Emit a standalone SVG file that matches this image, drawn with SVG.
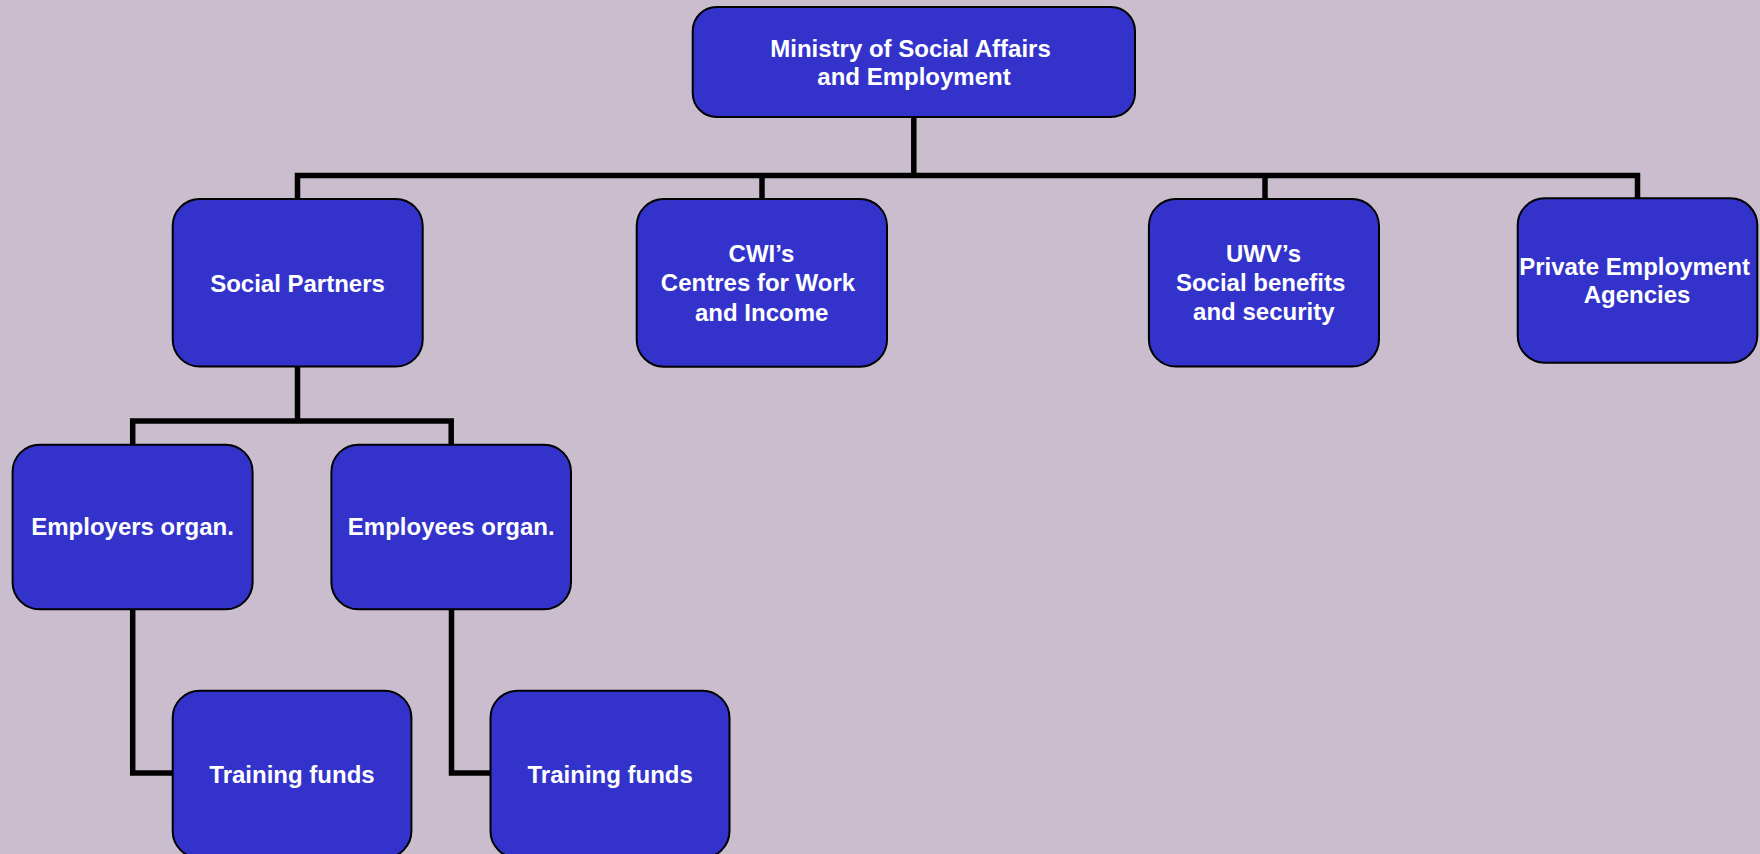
<svg xmlns="http://www.w3.org/2000/svg" width="1760" height="854" viewBox="0 0 1760 854">
<style>
.box{fill:#3333CC;stroke:#000;stroke-width:2}
.t{font-family:"Liberation Sans",Arial,sans-serif;font-weight:bold;font-size:24px;fill:#fff;text-anchor:middle}
.c{fill:none;stroke:#000;stroke-width:5.5;stroke-linejoin:miter;stroke-linecap:butt}
</style>
<rect x="0" y="0" width="1760" height="854" fill="#C9BDCE"/>
<g id="connectors">
<path class="c" d="M913.8,117 V175.5"/>
<path class="c" d="M297.5,199 V175.5 H1637.5 V198.5"/>
<path class="c" d="M762,175.5 V199"/>
<path class="c" d="M1265,175.5 V199"/>
<path class="c" d="M297.5,366.5 V421"/>
<path class="c" d="M132.7,444.7 V421 H451.2 V444.7"/>
<path class="c" d="M132.7,609.3 V773 H172.7"/>
<path class="c" d="M451.5,609.3 V773 H490.5"/>
</g>
<g id="ministry">
<rect class="box" x="692.7" y="7" width="442.3" height="110" rx="24"/>
<text class="t" x="910.5" y="56.7">Ministry of Social Affairs</text>
<text class="t" x="914" y="85.2">and Employment</text>
</g>
<g id="social-partners">
<rect class="box" x="172.7" y="199" width="250" height="167.5" rx="27"/>
<text class="t" x="297.5" y="291.7">Social Partners</text>
</g>
<g id="cwi">
<rect class="box" x="636.7" y="199" width="250.3" height="167.7" rx="27"/>
<text class="t" x="761.5" y="261.7">CWI’s</text>
<text class="t" x="758" y="291.2">Centres for Work</text>
<text class="t" x="761.7" y="320.5">and Income</text>
</g>
<g id="uwv">
<rect class="box" x="1148.9" y="199" width="230.1" height="167.5" rx="27"/>
<text class="t" x="1263.5" y="261.7">UWV’s</text>
<text class="t" x="1260.6" y="291.2">Social benefits</text>
<text class="t" x="1263.8" y="320.3">and security</text>
</g>
<g id="private">
<rect class="box" x="1517.7" y="198.3" width="239.6" height="164.4" rx="27"/>
<text class="t" x="1634.5" y="275">Private Employment</text>
<text class="t" x="1637" y="303.3">Agencies</text>
</g>
<g id="employers">
<rect class="box" x="12.6" y="444.7" width="240" height="164.6" rx="27"/>
<text class="t" x="132.6" y="535">Employers organ.</text>
</g>
<g id="employees">
<rect class="box" x="331.4" y="444.7" width="239.6" height="164.6" rx="27"/>
<text class="t" x="451.2" y="535">Employees organ.</text>
</g>
<g id="training1">
<rect class="box" x="172.7" y="690.7" width="238.7" height="167.3" rx="27"/>
<text class="t" x="292" y="782.7">Training funds</text>
</g>
<g id="training2">
<rect class="box" x="490.5" y="690.7" width="239" height="167.3" rx="27"/>
<text class="t" x="610.2" y="782.7">Training funds</text>
</g>
</svg>
